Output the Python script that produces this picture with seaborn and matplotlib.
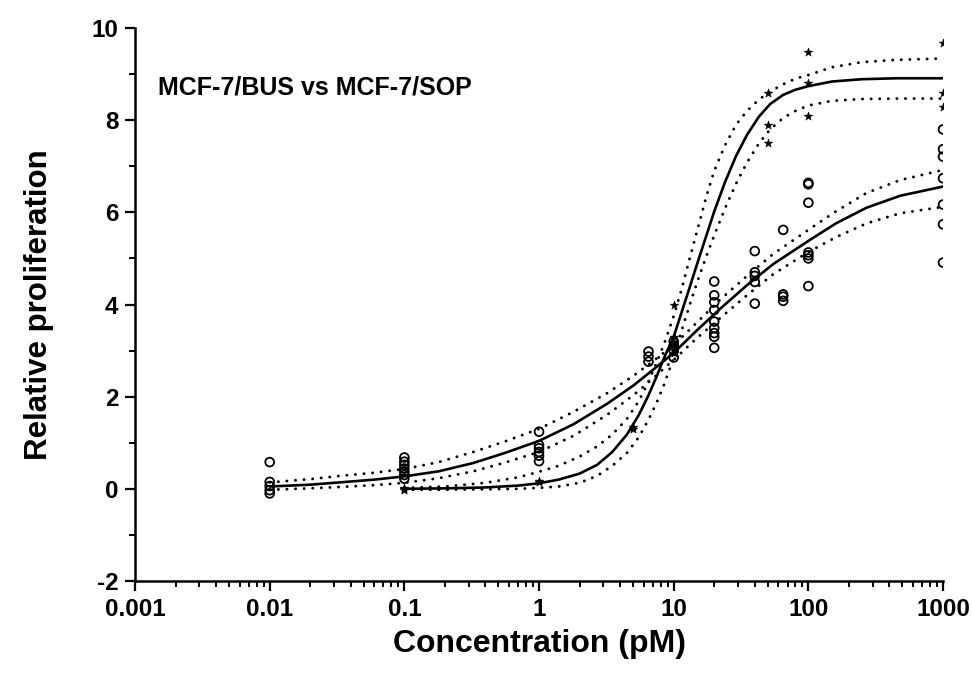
import numpy as np
import pandas as pd
import matplotlib
matplotlib.use("Agg")
import matplotlib.pyplot as plt
import matplotlib.ticker as mticker
import seaborn as sns

# ---------------- data ----------------
title_text = "MCF-7/BUS vs MCF-7/SOP"
x_label = "Concentration (pM)"
y_label = "Relative proliferation"
x_ticks = [0.001, 0.01, 0.1, 1, 10, 100, 1000]
x_tick_labels = ["0.001", "0.01", "0.1", "1", "10", "100", "1000"]
y_ticks = [-2, 0, 2, 4, 6, 8, 10]

# MCF-7/BUS (stars)
bus_conc = [0.1, 0.1, 0.1, 1, 1, 5, 5, 10, 10, 10, 10, 10,
            50, 50, 50, 100, 100, 100, 1000, 1000, 1000]
bus_vals = [0.02, 0.0, -0.02, 0.18, 0.14, 1.35, 1.30, 4.0, 3.3, 3.15, 3.05, 2.95,
            8.6, 7.9, 7.5, 9.49, 8.80, 8.10, 9.68, 8.60, 8.29]

# MCF-7/SOP (open circles)
sop_conc = ([0.01] * 5 + [0.1] * 7 + [1] * 6 + [6.5] * 3 + [10] * 4 +
            [20] * 9 + [40] * 5 + [65] * 4 + [100] * 7 + [1000] * 7)
sop_vals = [0.58, 0.15, 0.06, -0.03, -0.10,
            0.68, 0.59, 0.52, 0.44, 0.37, 0.30, 0.22,
            1.24, 0.95, 0.88, 0.80, 0.72, 0.60,
            2.98, 2.87, 2.76,
            3.20, 3.10, 3.00, 2.85,
            4.50, 4.20, 4.05, 3.88, 3.63, 3.49, 3.38, 3.30, 3.06,
            5.16, 4.70, 4.62, 4.49, 4.02,
            5.62, 4.22, 4.17, 4.08,
            6.64, 6.61, 6.21, 5.13, 5.07, 5.00, 4.40,
            7.80, 7.37, 7.21, 6.74, 6.17, 5.74, 4.91]

# fitted curve of MCF-7/BUS and its confidence band
bus_curve_x = [0.1, 0.2, 0.4, 0.7, 1.0, 1.4, 2.0, 2.7, 3.5, 4.5, 5.5, 6.5, 7.5,
               8.5, 10, 11.5, 13, 15, 17.5, 20, 24, 29, 35, 43, 52, 65, 80,
               100, 150, 250, 450, 1000]
bus_fit_y = [0.00, 0.01, 0.03, 0.07, 0.12, 0.20, 0.33, 0.52, 0.80, 1.18, 1.60,
             2.03, 2.45, 2.85, 3.30, 3.85, 4.33, 4.90, 5.50, 6.02, 6.65, 7.22,
             7.68, 8.08, 8.35, 8.55, 8.66, 8.74, 8.84, 8.89, 8.91, 8.91]
bus_hi_y = [0.02, 0.05, 0.13, 0.25, 0.37, 0.50, 0.70, 0.92, 1.18, 1.52, 1.90,
            2.33, 2.75, 3.15, 3.75, 4.35, 4.95, 5.62, 6.35, 6.90, 7.45, 7.90,
            8.20, 8.45, 8.62, 8.78, 8.90, 8.98, 9.15, 9.26, 9.31, 9.34]
bus_lo_y = [-0.02, -0.02, -0.01, 0.00, 0.02, 0.05, 0.13, 0.28, 0.50, 0.78, 1.12,
            1.50, 1.88, 2.27, 2.85, 3.45, 3.95, 4.50, 5.05, 5.50, 6.08, 6.62,
            7.08, 7.50, 7.80, 8.05, 8.20, 8.32, 8.42, 8.46, 8.47, 8.47]

# fitted curve of MCF-7/SOP and its confidence band
sop_curve_x = [0.01, 0.02, 0.0333, 0.06, 0.1, 0.18, 0.325, 0.56, 1.0, 1.8, 3.18,
               5.01, 6.67, 10, 15, 22, 35, 55, 100, 160, 270, 480, 1000]
sop_fit_y = [0.05, 0.09, 0.14, 0.20, 0.27, 0.38, 0.56, 0.78, 1.04, 1.40, 1.84,
             2.24, 2.53, 2.95, 3.45, 3.90, 4.42, 4.88, 5.38, 5.76, 6.10, 6.36, 6.56]
sop_hi_y = [0.14, 0.21, 0.28, 0.35, 0.43, 0.58, 0.80, 1.03, 1.30, 1.67, 2.07,
            2.45, 2.72, 3.12, 3.62, 4.10, 4.62, 5.10, 5.62, 6.02, 6.42, 6.70, 6.92]
sop_lo_y = [-0.02, 0.01, 0.04, 0.08, 0.13, 0.23, 0.38, 0.57, 0.80, 1.15, 1.60,
            2.03, 2.34, 2.80, 3.28, 3.70, 4.20, 4.66, 5.14, 5.46, 5.76, 5.98, 6.12]

# ---------------- styling ----------------
sns.set_style("ticks")
plt.rcParams["font.family"] = ["Liberation Sans", "DejaVu Sans"]
plt.rcParams["font.weight"] = "bold"
plt.rcParams["axes.unicode_minus"] = False
for key in ["text.color", "axes.labelcolor", "xtick.color", "ytick.color", "axes.edgecolor"]:
    plt.rcParams[key] = "black"

fig = plt.figure(figsize=(9.72, 6.86), dpi=100)
ax = fig.add_axes([0.1389, 0.1531, 0.8313, 0.806])

dotted = (0, (0.05, 2.9))

curves = [
    (bus_curve_x, bus_fit_y, "-"),
    (bus_curve_x, bus_hi_y, dotted),
    (bus_curve_x, bus_lo_y, dotted),
    (sop_curve_x, sop_fit_y, "-"),
    (sop_curve_x, sop_hi_y, dotted),
    (sop_curve_x, sop_lo_y, dotted),
]
for cx, cy, ls in curves:
    d = pd.DataFrame({"x": cx, "y": cy})
    sns.lineplot(data=d, x="x", y="y", color="black",
                 linewidth=1.9 if ls == "-" else 2.1,
                 linestyle=ls, estimator=None, sort=True, ax=ax)
for ln in ax.lines:
    ln.set_dash_capstyle("round")

sop_df = pd.DataFrame({"conc": sop_conc, "val": sop_vals})
bus_df = pd.DataFrame({"conc": bus_conc, "val": bus_vals})
sns.scatterplot(data=sop_df, x="conc", y="val", marker="o", s=40,
                facecolor="none", edgecolor="black", linewidth=1.3, ax=ax, zorder=3)
sns.scatterplot(data=bus_df, x="conc", y="val", marker="*", s=42,
                color="black", edgecolor="black", linewidth=0.4, ax=ax, zorder=3)

ax.set_xscale("log")
ax.set_xlim(0.001, 1000)
ax.set_ylim(-2, 10)
ax.set_xticks(x_ticks)
ax.set_xticklabels(x_tick_labels)
ax.xaxis.set_minor_locator(mticker.LogLocator(base=10, subs=np.arange(2, 10), numticks=20))
ax.xaxis.set_minor_formatter(mticker.NullFormatter())
ax.set_yticks(y_ticks)
ax.yaxis.set_minor_locator(mticker.MultipleLocator(1))

for s in ["left", "bottom"]:
    ax.spines[s].set_linewidth(1.8)
sns.despine(ax=ax)
ax.tick_params(axis="both", which="major", length=7, width=1.6, labelsize=17.5,
               direction="out", pad=5)
ax.tick_params(axis="both", which="minor", length=4.5, width=1.4, direction="out")
for lab in ax.get_xticklabels() + ax.get_yticklabels():
    lab.set_fontweight("bold")

ax.set_xlabel(x_label, fontsize=23, fontweight="bold", labelpad=6)
ax.set_ylabel(y_label, fontsize=22.5, fontweight="bold", labelpad=27)

ax.text(0.00148, 8.7, title_text, fontsize=18, fontweight="bold",
        ha="left", va="center")

fig.savefig("out.png", dpi=100)
